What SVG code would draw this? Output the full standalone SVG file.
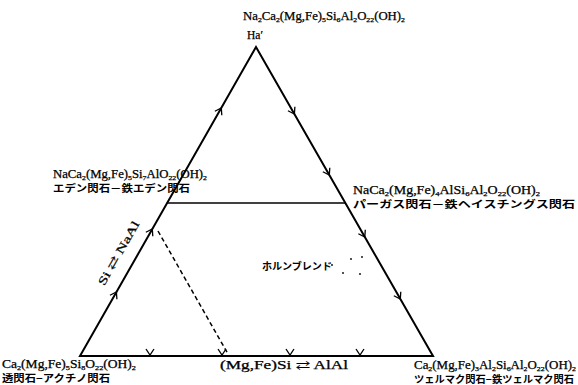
<svg xmlns="http://www.w3.org/2000/svg" width="578" height="385" viewBox="0 0 578 385">
<style>
.f{font-family:"Liberation Serif","DejaVu Serif",serif;font-size:11.5px;fill:#000;stroke:#000;stroke-width:0.25}
.j{font-family:"Noto Sans CJK JP","Noto Sans",sans-serif;font-size:10px;fill:#000;font-weight:bold}
.s{font-size:7px;baseline-shift:-1.5px}
.edge{stroke:#000;stroke-width:2;fill:none;stroke-linejoin:miter}
.thin{stroke:#000;stroke-width:1.6;fill:none}
.dash{stroke:#000;stroke-width:1.5;fill:none;stroke-dasharray:4.5,3}
.ah{stroke:#000;stroke-width:1.3;fill:none}
</style>
<defs>
<path id="ah" d="M-6,-4 L0,0 L-6,4" class="ah"/>
</defs>
<rect width="578" height="385" fill="#fff"/>
<g id="connectors">
<path class="edge" d="M256,47 L80,356 L433,356 Z"/>
<line class="thin" x1="167" y1="203" x2="345.5" y2="203"/>
<line class="dash" x1="158" y1="231" x2="228" y2="354"/>
<use href="#ah" transform="translate(221.3,108) rotate(-60.3)"/>
<use href="#ah" transform="translate(152.3,229) rotate(-60.3)"/>
<use href="#ah" transform="translate(116.4,292) rotate(-60.3)"/>
<use href="#ah" transform="translate(294.4,114) rotate(60.2)"/>
<use href="#ah" transform="translate(329.3,175) rotate(60.2)"/>
<use href="#ah" transform="translate(364.8,237) rotate(60.2)"/>
<use href="#ah" transform="translate(400.3,299) rotate(60.2)"/>
<use href="#ah" transform="translate(150,355) rotate(90)"/>
<use href="#ah" transform="translate(222,355) rotate(90)"/>
<use href="#ah" transform="translate(290,355) rotate(90)"/>
<use href="#ah" transform="translate(360,355) rotate(90)"/>
</g>
<g id="node-top">
<text class="f" x="243" y="20" textLength="162" lengthAdjust="spacingAndGlyphs">Na<tspan class="s">2</tspan>Ca<tspan class="s">2</tspan>(Mg,Fe)<tspan class="s">5</tspan>Si<tspan class="s">6</tspan>Al<tspan class="s">2</tspan>O<tspan class="s">22</tspan>(OH)<tspan class="s">2</tspan></text>
<text class="f" x="247" y="39" font-size="13">Ha′</text>
</g>
<g id="node-edenite">
<text class="f" x="53" y="178" textLength="154" lengthAdjust="spacingAndGlyphs">NaCa<tspan class="s">2</tspan>(Mg,Fe)<tspan class="s">5</tspan>Si<tspan class="s">7</tspan>AlO<tspan class="s">22</tspan>(OH)<tspan class="s">2</tspan></text>
<text class="j" x="53" y="192" textLength="137" lengthAdjust="spacingAndGlyphs">エデン閃石－鉄エデン閃石</text>
</g>
<g id="node-pargasite">
<text class="f" x="353" y="194" textLength="187" lengthAdjust="spacingAndGlyphs">NaCa<tspan class="s">2</tspan>(Mg,Fe)<tspan class="s">4</tspan>AlSi<tspan class="s">6</tspan>Al<tspan class="s">2</tspan>O<tspan class="s">22</tspan>(OH)<tspan class="s">2</tspan></text>
<text class="j" x="353" y="208" textLength="222" lengthAdjust="spacingAndGlyphs">パーガス閃石－鉄ヘイスチングス閃石</text>
</g>
<g id="node-tremolite">
<text class="f" x="2" y="368" textLength="134" lengthAdjust="spacingAndGlyphs">Ca<tspan class="s">2</tspan>(Mg,Fe)<tspan class="s">5</tspan>Si<tspan class="s">8</tspan>O<tspan class="s">22</tspan>(OH)<tspan class="s">2</tspan></text>
<text class="j" x="2" y="382" textLength="108" lengthAdjust="spacingAndGlyphs">透閃石−アクチノ閃石</text>
</g>
<g id="node-tschermakite">
<text class="f" x="414" y="369" textLength="162" lengthAdjust="spacingAndGlyphs">Ca<tspan class="s">2</tspan>(Mg,Fe)<tspan class="s">3</tspan>Al<tspan class="s">2</tspan>Si<tspan class="s">6</tspan>Al<tspan class="s">2</tspan>O<tspan class="s">22</tspan>(OH)<tspan class="s">2</tspan></text>
<text class="j" x="414" y="383" textLength="160" lengthAdjust="spacingAndGlyphs">ツェルマク閃石−鉄ツェルマク閃石</text>
</g>
<g id="node-hornblende">
<text class="j" x="262" y="270" textLength="70" lengthAdjust="spacingAndGlyphs" font-size="10.5">ホルンブレンド</text>
<g fill="#000">
<circle cx="332" cy="265" r="0.9"/><circle cx="351" cy="259" r="0.9"/><circle cx="362" cy="257" r="0.9"/><circle cx="343" cy="273" r="0.9"/><circle cx="360" cy="274" r="0.9"/>
</g>
</g>
<g id="labels">
<text class="f" x="220" y="369" textLength="128" lengthAdjust="spacingAndGlyphs" font-size="13">(Mg,Fe)Si ⇄ AlAl</text>
<text class="f" font-size="13" text-anchor="middle" transform="translate(122,255) rotate(-60.3)" textLength="72" lengthAdjust="spacingAndGlyphs">Si ⇄ NaAl</text>
</g>
</svg>
